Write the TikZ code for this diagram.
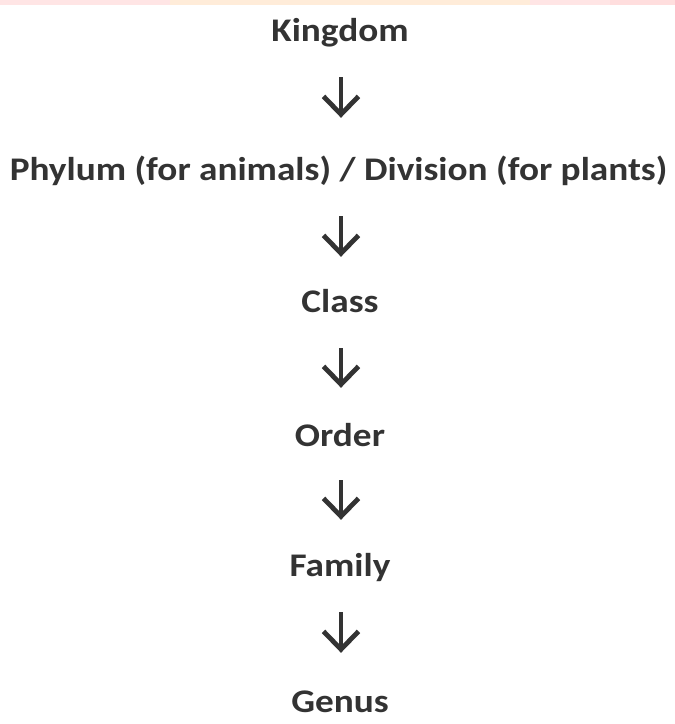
\documentclass[tikz,border=0pt]{standalone}
\usepackage{fontspec}
\setmainfont{Carlito}[FakeStretch=1.13]
\usetikzlibrary{arrows.meta}
\definecolor{inkgray}{HTML}{333333}

\begin{document}
\begin{tikzpicture}[x=1pt,y=1pt,
  rank/.style={font=\bfseries\fontsize{33}{38}\selectfont,text=inkgray,
    inner sep=0pt,text height=22pt,text depth=7pt,anchor=base},
  flow/.style={draw=inkgray,line width=4.8pt,shorten <=28pt,shorten >=37pt,
    -{Straight Barb[length=18pt,width=35pt,line width=4.8pt]}}]
  \useasboundingbox[fill=white] (0,0) rectangle (675,724);
  % faint top band
  \fill[red!10] (0,719) rectangle (675,724);
  \fill[orange!15] (170,719) rectangle (530,724);
  \fill[red!13] (610,719) rectangle (675,724);
  % ranks
  \node[rank] (kingdom) at (340,682) {Kingdom};
  \node[rank] (phylum)  at (338.5,543) {Phylum (for animals) / Division (for plants)};
  \node[rank] (class)   at (340,411) {Class};
  \node[rank] (order)   at (340,277) {Order};
  \node[rank] (family)  at (340,147) {Family};
  \node[rank] (genus)   at (340,12)  {Genus};
  % arrows
  \draw[flow,shorten >=41pt] (kingdom.south -| 341,0) -- (phylum.north -| 341,0);
  \draw[flow,shorten >=34pt] (phylum.south -| 341,0) -- (class.north -| 341,0);
  \draw[flow] (class.south -| 341,0) -- (order.north -| 341,0);
  \draw[flow,shorten <=26pt,shorten >=35pt] (order.south -| 341,0) -- (family.north -| 341,0);
  \draw[flow] (family.south -| 341,0) -- (genus.north -| 341,0);
\end{tikzpicture}
\end{document}
